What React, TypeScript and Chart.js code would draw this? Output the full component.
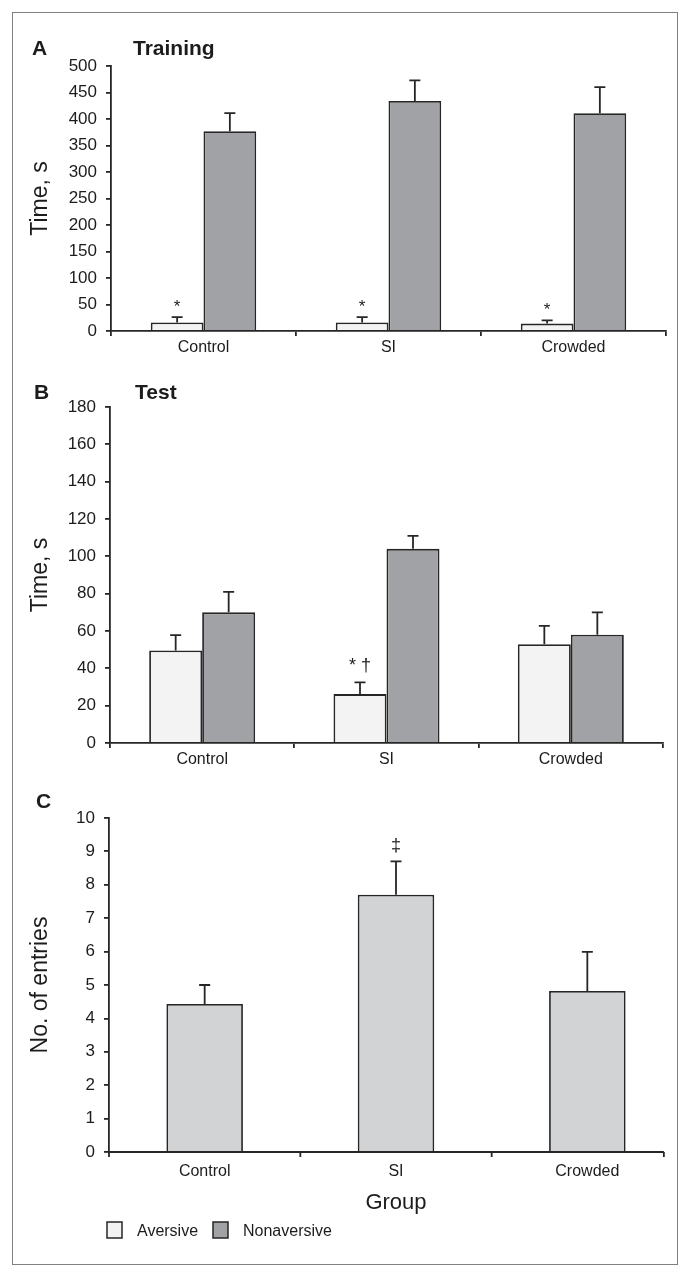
import React, { useEffect, useRef } from 'react';
import { Chart, registerables } from 'chart.js';

Chart.register(...registerables);

// ---------- data ----------
const groups = ['Control', 'SI', 'Crowded'];
const seriesNames = ['Aversive', 'Nonaversive'];

const trainingAversive = [16, 16, 14];
const trainingAversiveErr = [10, 10, 6];
const trainingNonaversive = [377, 434, 411];
const trainingNonaversiveErr = [34, 39, 49];
const trainingMarks = ['*', '*', '*'];
const trainingTicks = [0, 50, 100, 150, 200, 250, 300, 350, 400, 450, 500];

const testAversive = [49.6, 26.2, 52.9];
const testAversiveErr = [8.2, 6.3, 9.8];
const testNonaversive = [70, 104, 58];
const testNonaversiveErr = [11, 7, 12];
const testMarks = ['', '* \u2020', ''];
const testTicks = [0, 20, 40, 60, 80, 100, 120, 140, 160, 180];

const entries = [4.43, 7.7, 4.82];
const entriesErr = [0.57, 1.0, 1.17];
const entriesMarks = ['', '\u2021', ''];
const entriesTicks = [0, 1, 2, 3, 4, 5, 6, 7, 8, 9, 10];

// ---------- styles ----------
const FONT = '"Liberation Sans", Arial, Helvetica, sans-serif';
const TEXT = '#1c1c1c';
const AXIS = '#262626';
const BORDER = '#262626';
const AVERSIVE_FILL = '#f3f3f3';
const NONAVERSIVE_FILL = '#a1a2a5';
const ENTRIES_FILL = '#d2d3d5';
const seriesColors = [AVERSIVE_FILL, NONAVERSIVE_FILL];
const LINE_W = 1.8;

Chart.defaults.font.family = FONT;
Chart.defaults.color = TEXT;

// ---------- plugins ----------
const errorBarPlugin = {
  id: 'errorBars',
  afterDatasetsDraw(chart: any, _args: any, opts: any) {
    const ctx = chart.ctx;
    const ys = chart.scales.y;
    chart.data.datasets.forEach((ds: any, i: number) => {
      const meta = chart.getDatasetMeta(i);
      meta.data.forEach((bar: any, j: number) => {
        const v = ds.data[j];
        const topV = v + ds.errors[j];
        const yBar = ys.getPixelForValue(v);
        const yTop = ys.getPixelForValue(topV);
        ctx.save();
        ctx.strokeStyle = BORDER;
        ctx.lineWidth = LINE_W;
        ctx.beginPath();
        ctx.moveTo(bar.x, yBar);
        ctx.lineTo(bar.x, yTop);
        ctx.moveTo(bar.x - 5.5, yTop);
        ctx.lineTo(bar.x + 5.5, yTop);
        ctx.stroke();
        const mark = ds.marks && ds.marks[j];
        if (mark) {
          ctx.fillStyle = TEXT;
          ctx.font = `${opts.markSize || 16}px ${FONT}`;
          ctx.textAlign = 'center';
          ctx.textBaseline = 'alphabetic';
          ctx.fillText(mark, bar.x, yTop - (opts.markOffset || 5));
        }
        ctx.restore();
      });
    });
  },
};

const panelTextPlugin = {
  id: 'panelText',
  afterDraw(chart: any, _args: any, opts: any) {
    const ctx = chart.ctx;
    (opts.items || []).forEach((it: any) => {
      ctx.save();
      ctx.fillStyle = TEXT;
      ctx.font = it.font;
      ctx.textAlign = 'left';
      ctx.textBaseline = 'alphabetic';
      ctx.fillText(it.text, it.x, it.y);
      ctx.restore();
    });
  },
};

const customAxisPlugin = {
  id: 'customAxis',
  afterDraw(chart: any, _args: any, opts: any) {
    if (!opts.enabled) return;
    const ctx = chart.ctx;
    const xs = chart.scales.x;
    const ca = chart.chartArea;
    const n = chart.data.labels.length;
    const step = xs.getPixelForValue(1) - xs.getPixelForValue(0);
    const end = ca.right - step * opts.trim;
    ctx.save();
    ctx.strokeStyle = AXIS;
    ctx.lineWidth = LINE_W;
    ctx.beginPath();
    ctx.moveTo(ca.left, ca.bottom);
    ctx.lineTo(end, ca.bottom);
    const tickXs = [ca.left];
    for (let i = 1; i < n; i++) {
      tickXs.push((xs.getPixelForValue(i - 1) + xs.getPixelForValue(i)) / 2);
    }
    tickXs.push(end);
    tickXs.forEach((x) => {
      ctx.moveTo(x, ca.bottom);
      ctx.lineTo(x, ca.bottom + 5);
    });
    ctx.stroke();
    ctx.restore();
  },
};

const legendPlugin = {
  id: 'sideLegend',
  afterDraw(chart: any, _args: any, opts: any) {
    if (!opts.enabled) return;
    const ctx = chart.ctx;
    ctx.save();
    seriesNames.forEach((name, i) => {
      const bx = opts.boxX[i];
      ctx.fillStyle = seriesColors[i];
      ctx.fillRect(bx, opts.boxY, 15, 16);
      ctx.strokeStyle = BORDER;
      ctx.lineWidth = 1.5;
      ctx.strokeRect(bx, opts.boxY, 15, 16);
      ctx.fillStyle = TEXT;
      ctx.font = `16px ${FONT}`;
      ctx.textAlign = 'left';
      ctx.textBaseline = 'alphabetic';
      ctx.fillText(name, opts.textX[i], opts.textY);
    });
    ctx.restore();
  },
};

// ---------- config builder ----------
function buildConfig(p: any) {
  const ticks = p.yTicks;
  return {
    type: 'bar',
    data: { labels: groups, datasets: p.datasets },
    plugins: [errorBarPlugin, panelTextPlugin, customAxisPlugin, legendPlugin],
    options: {
      responsive: false,
      animation: false,
      devicePixelRatio: 1,
      layout: { padding: { left: 0, right: p.padRight, top: p.padTop, bottom: 0 } },
      plugins: {
        legend: { display: false },
        tooltip: { enabled: false },
        errorBars: { markSize: p.markSize, markOffset: p.markOffset },
        panelText: { items: p.texts },
        customAxis: { enabled: !!p.customAxis, trim: 0.1 },
        sideLegend: p.legend || { enabled: false },
      },
      scales: {
        x: {
          type: 'category',
          offset: true,
          grid: {
            display: !p.customAxis,
            drawOnChartArea: false,
            drawTicks: !p.customAxis,
            tickLength: 5,
            color: AXIS,
            lineWidth: LINE_W,
            offset: true,
          },
          border: { display: !p.customAxis, color: AXIS, width: LINE_W },
          ticks: { font: { size: 16 }, color: TEXT, padding: p.xPad, maxRotation: 0, autoSkip: false },
          title: p.xTitle
            ? { display: true, text: p.xTitle, font: { size: 22 }, color: TEXT, padding: { top: 0, bottom: p.xTitlePad } }
            : { display: false },
          afterFit: (s: any) => { s.height = p.xHeight; },
        },
        y: {
          min: ticks[0],
          max: ticks[ticks.length - 1],
          ticks: { stepSize: ticks[1] - ticks[0], font: { size: 17 }, color: TEXT, padding: 9 },
          grid: { drawOnChartArea: false, tickLength: 5, color: AXIS, lineWidth: LINE_W },
          border: { display: true, color: AXIS, width: LINE_W },
          title: { display: true, text: p.yTitle, font: { size: 23 }, color: TEXT, padding: { top: 27, bottom: 0 } },
          afterFit: (s: any) => { s.width = p.yWidth; },
        },
      },
    },
  };
}

const barStyle = { borderColor: BORDER, borderWidth: LINE_W };

const panelA = () =>
  buildConfig({
    datasets: [
      { label: seriesNames[0], data: trainingAversive, errors: trainingAversiveErr, marks: trainingMarks,
        backgroundColor: AVERSIVE_FILL, ...barStyle, categoryPercentage: 0.57, barPercentage: 1 },
      { label: seriesNames[1], data: trainingNonaversive, errors: trainingNonaversiveErr,
        backgroundColor: NONAVERSIVE_FILL, ...barStyle, categoryPercentage: 0.57, barPercentage: 1 },
    ],
    yTicks: trainingTicks,
    yTitle: 'Time, s',
    yWidth: 111,
    padTop: 46,
    padRight: 24,
    xHeight: 29,
    xPad: 1.5,
    markSize: 17,
    markOffset: 5,
    texts: [
      { text: 'A', x: 32, y: 35, font: `bold 21px ${FONT}` },
      { text: 'Training', x: 133, y: 35, font: `bold 21px ${FONT}` },
    ],
  });

const panelB = () =>
  buildConfig({
    datasets: [
      { label: seriesNames[0], data: testAversive, errors: testAversiveErr, marks: testMarks,
        backgroundColor: AVERSIVE_FILL, ...barStyle, categoryPercentage: 0.575, barPercentage: 1 },
      { label: seriesNames[1], data: testNonaversive, errors: testNonaversiveErr,
        backgroundColor: NONAVERSIVE_FILL, ...barStyle, categoryPercentage: 0.575, barPercentage: 1 },
    ],
    yTicks: testTicks,
    yTitle: 'Time, s',
    yWidth: 110,
    padTop: 37,
    padRight: 27,
    xHeight: 27,
    xPad: 1.5,
    markSize: 18,
    markOffset: 11,
    texts: [
      { text: 'B', x: 34, y: 28.5, font: `bold 21px ${FONT}` },
      { text: 'Test', x: 135, y: 28.5, font: `bold 21px ${FONT}` },
    ],
  });

const panelC = () =>
  buildConfig({
    datasets: [
      { label: 'No. of entries', data: entries, errors: entriesErr, marks: entriesMarks,
        backgroundColor: ENTRIES_FILL, ...barStyle, categoryPercentage: 0.4, barPercentage: 1 },
    ],
    yTicks: entriesTicks,
    yTitle: 'No. of entries',
    yWidth: 109,
    padTop: 48,
    padRight: 7,
    xHeight: 125,
    xPad: 10.4,
    xTitle: 'Group',
    xTitlePad: 61,
    customAxis: true,
    markSize: 18,
    markOffset: 10,
    legend: { enabled: true, boxX: [107, 213], boxY: 452, textX: [137, 243], textY: 466 },
    texts: [{ text: 'C', x: 36, y: 38, font: `bold 21px ${FONT}` }],
  });

function Panel({ make, top, height }: { make: () => any; top: number; height: number }) {
  const ref = useRef<HTMLCanvasElement>(null);
  useEffect(() => {
    const chart = new Chart(ref.current as HTMLCanvasElement, make() as any);
    return () => chart.destroy();
  }, []);
  return (
    <canvas
      ref={ref}
      width={690}
      height={height}
      style={{ position: 'absolute', left: 0, top, width: 690, height, display: 'block' }}
    />
  );
}

export default function App() {
  return (
    <div style={{ position: 'absolute', left: 0, top: 0, width: 690, height: 1277, background: '#ffffff', overflow: 'hidden' }}>
      <div
        style={{
          position: 'absolute',
          left: 12,
          top: 12,
          width: 666,
          height: 1253,
          border: '1px solid #808080',
          boxSizing: 'border-box',
        }}
      />
      <Panel make={panelA} top={20} height={340} />
      <Panel make={panelB} top={370} height={400} />
      <Panel make={panelC} top={770} height={507} />
    </div>
  );
}
